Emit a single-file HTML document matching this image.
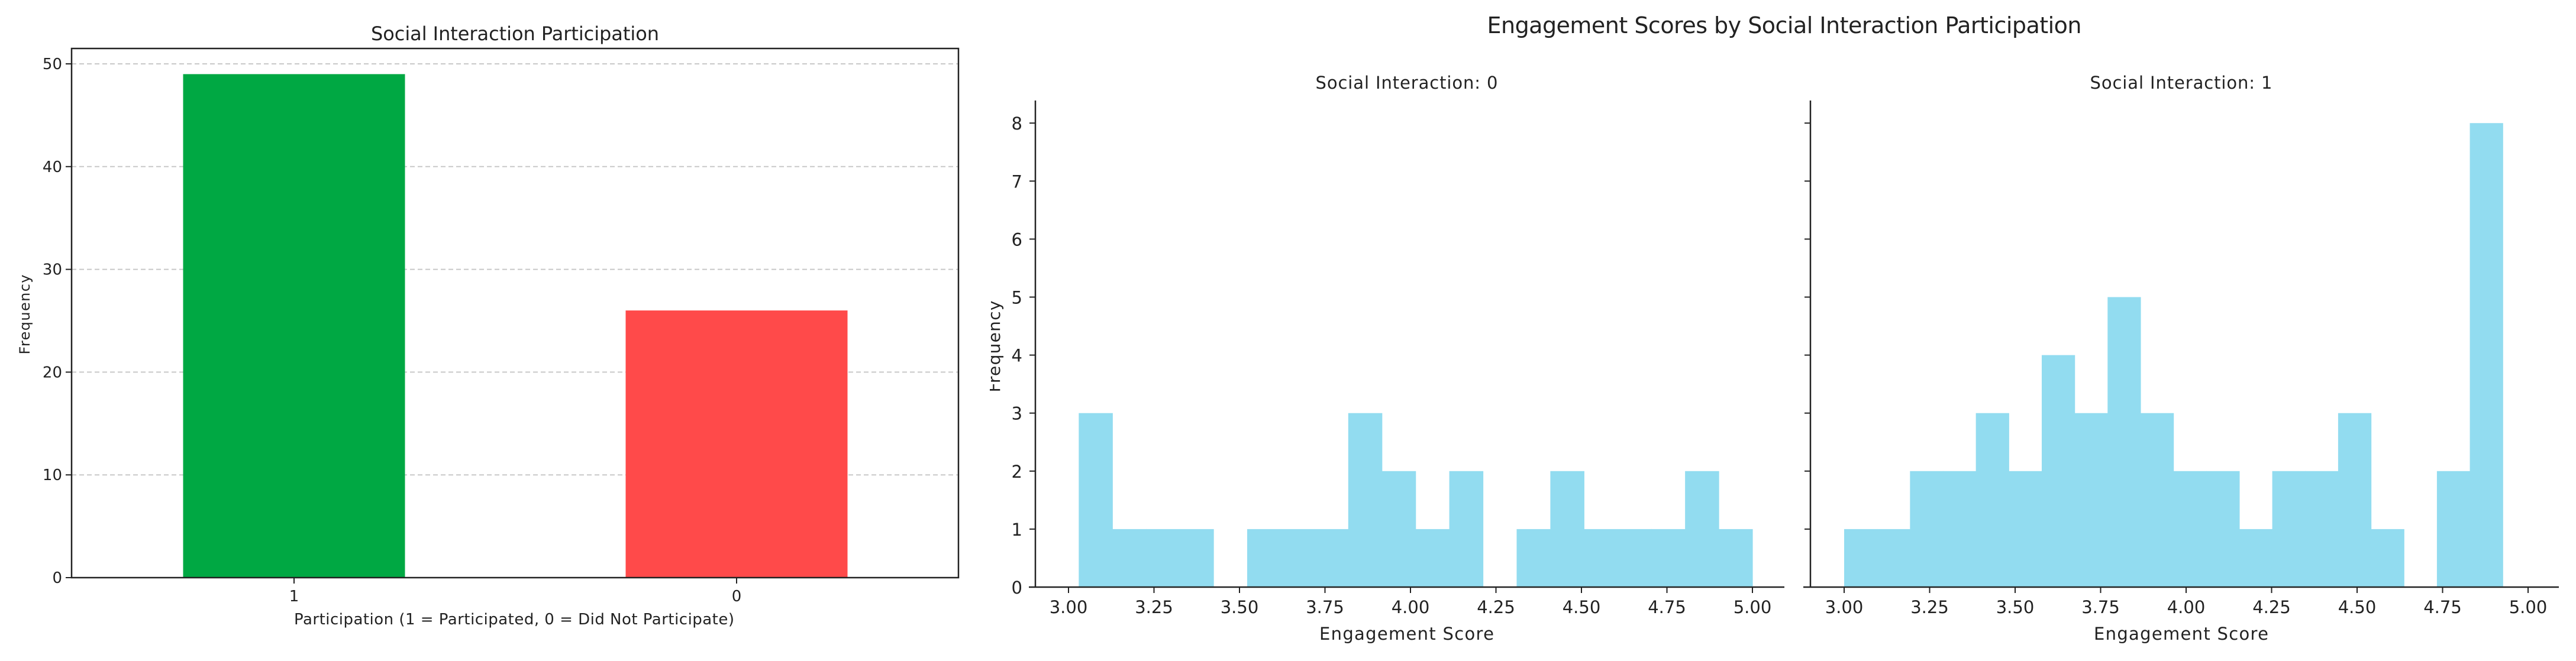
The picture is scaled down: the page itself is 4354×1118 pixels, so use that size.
<!DOCTYPE html>
<html><head><meta charset="utf-8"><style>
html,body{margin:0;padding:0;background:#fff;}
svg text{font-family:"DejaVu Sans","Liberation Sans",sans-serif;fill:#222;}
</style></head><body>
<svg id="fig" width="4354" height="1113" viewBox="0 0 4354 1113" xmlns="http://www.w3.org/2000/svg">
<defs><clipPath id="ylclip" clipPathUnits="userSpaceOnUse"><rect x="1673" y="0" width="200" height="1113"/></clipPath></defs>
<g id="bar-chart"></g>
<g id="hist0"></g>
<g id="hist1"></g>
<g clip-path="url(#ylclip)">
<text x="0" y="0" font-size="28" text-anchor="middle" transform="translate(1690,586) rotate(-90)" textLength="155">Frequency</text>
</g>
<text x="3016" y="56" font-size="38" text-anchor="middle" textLength="1005">Engagement Scores by Social Interaction Participation</text>
</svg>
<script>
const barCategories = ["1", "0"];
const barValues = [49, 26];
const barColors = ["#00a843", "#ff4a4a"];
const barTicks = [0, 10, 20, 30, 40, 50];

const histTicksX = [3.00, 3.25, 3.50, 3.75, 4.00, 4.25, 4.50, 4.75, 5.00];
const histTicksY = [0, 1, 2, 3, 4, 5, 6, 7, 8];
const hist0Start = 3.03;
const hist0End = 5.00;
const hist0Counts = [3,1,1,1,0,1,1,1,3,2,1,2,0,1,2,1,1,1,2,1];
const hist1Start = 3.00;
const hist1End = 4.926;
const hist1Counts = [1,1,2,2,3,2,4,3,5,3,2,2,1,2,2,3,1,0,2,8];

const NS = "http://www.w3.org/2000/svg";
function mk(parent, tag, attrs, text) {
  const e = document.createElementNS(NS, tag);
  for (const k in attrs) e.setAttribute(k, attrs[k]);
  if (text !== undefined) e.textContent = text;
  parent.appendChild(e);
  return e;
}

// ---- Bar chart ----
(function(){
  const g = document.getElementById('bar-chart');
  const L = 121, R = 1620, T = 82, B = 977;
  const y = v => B - v / 50 * (B - 108);
  barTicks.forEach(t => {
    if (t > 0) {
      const gl = mk(g, 'line', {x1: L, x2: R, y1: y(t), y2: y(t), stroke: '#c8c8c8', 'stroke-width': 2, 'stroke-dasharray': '8,5'});
      
      
    }
    const tk = mk(g, 'line', {x1: L - 10, x2: L, y1: y(t), y2: y(t), stroke: '#222', 'stroke-width': 2});
    
    
    const tl = mk(g, 'text', {x: L - 16, y: y(t) + 9, 'font-size': 26, 'text-anchor': 'end'}, String(t));
    
    
  });
  const barW = 375;
  const centers = [497, 1245];
  barCategories.forEach((c, i) => {
    const cx = centers[i];
    const r = mk(g, 'rect', {x: cx - barW / 2, y: y(barValues[i]), width: barW, height: B - y(barValues[i]), fill: barColors[i]});
    
    
    const tk = mk(g, 'line', {x1: cx, x2: cx, y1: B, y2: B + 10, stroke: '#222', 'stroke-width': 2});
    
    
    const tl = mk(g, 'text', {x: cx, y: B + 40, 'font-size': 26, 'text-anchor': 'middle'}, c);
    
    
  });
  const fr = mk(g, 'rect', {x: L, y: T, width: R - L, height: B - T, fill: 'none', stroke: '#222', 'stroke-width': 2.5});
  
  
  const t = mk(g, 'text', {x: (L + R) / 2, y: 68, 'font-size': 32, 'text-anchor': 'middle', textLength: 487}, 'Social Interaction Participation');
  
  
  const xl = mk(g, 'text', {x: 869, y: 1056, 'font-size': 26, 'text-anchor': 'middle', textLength: 744}, 'Participation (1 = Participated, 0 = Did Not Participate)');
  
  
  const yl = mk(g, 'text', {x: 0, y: 0, 'font-size': 24, 'text-anchor': 'middle', transform: 'translate(50,532) rotate(-90)', textLength: 135}, 'Frequency');
  
  
})();

// ---- Histograms ----
function drawHist(gid, axX, xStart, xEnd, x300, showY, title, start, end, counts) {
  const g = document.getElementById(gid);
  const B = 993, T = 170;
  const perUnit = 578;
  const x = v => x300 + (v - 3) * perUnit;
  const y = v => B - v * 98.1;
  const w = (end - start) / counts.length;
  counts.forEach((c, i) => {
    if (c <= 0) return;
    const x0 = x(start + i * w), x1 = x(start + (i + 1) * w);
    const r = mk(g, 'rect', {x: x0, y: y(c), width: x1 - x0 + 0.6, height: B - y(c), fill: '#92dcf0'});
    
    
  });
  const ya = mk(g, 'line', {x1: axX, x2: axX, y1: T, y2: B + 1, stroke: '#222', 'stroke-width': 2.5});
  
  
  const xa = mk(g, 'line', {x1: xStart, x2: xEnd, y1: B, y2: B, stroke: '#222', 'stroke-width': 2.5});
  
  
  histTicksY.forEach(t => {
    const tk = mk(g, 'line', {x1: axX - 10, x2: axX, y1: y(t), y2: y(t), stroke: '#222', 'stroke-width': 2});
    
    
    if (showY) {
      const tl = mk(g, 'text', {x: axX - 22, y: y(t) + 11, 'font-size': 29, 'text-anchor': 'end'}, String(t));
      
      
    }
  });
  histTicksX.forEach(t => {
    const tk = mk(g, 'line', {x1: x(t), x2: x(t), y1: B, y2: B + 10, stroke: '#222', 'stroke-width': 2});
    
    
    const tl = mk(g, 'text', {x: x(t), y: B + 44, 'font-size': 29, 'text-anchor': 'middle'}, t.toFixed(2));
    
    
  });
  const cx = (xStart + xEnd) / 2;
  const st = mk(g, 'text', {x: cx, y: 150, 'font-size': 29, 'text-anchor': 'middle', textLength: 308}, title);
  
  
  const xl = mk(g, 'text', {x: cx, y: 1082, 'font-size': 29, 'text-anchor': 'middle', textLength: 295}, 'Engagement Score');
  
  
}
drawHist('hist0', 1750, 1739, 3016, 1806, true, 'Social Interaction: 0', hist0Start, hist0End, hist0Counts);
drawHist('hist1', 3060, 3048, 4325, 3117, false, 'Social Interaction: 1', hist1Start, hist1End, hist1Counts);
</script>
</body></html>
